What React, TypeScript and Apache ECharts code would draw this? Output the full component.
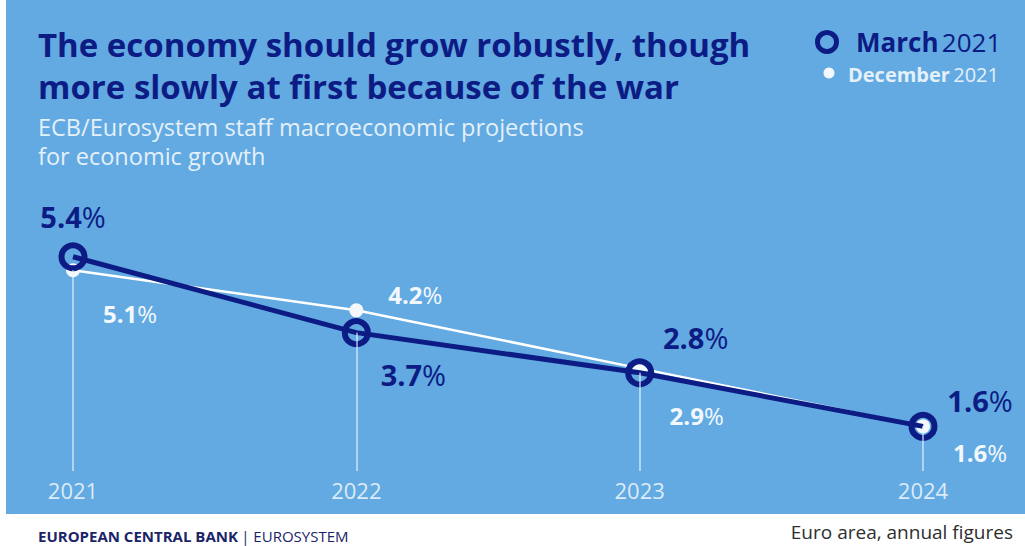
import React, { useEffect, useRef } from "react";
import * as echarts from "echarts";

const categories = ["2021", "2022", "2023", "2024"];
const march2021 = [5.4, 3.7, 2.8, 1.6];
const december2021 = [5.1, 4.2, 2.9, 1.6];

const titleLines = [
  "The economy should grow robustly, though",
  "more slowly at first because of the war",
];
const subtitleLines = [
  "ECB/Eurosystem staff macroeconomic projections",
  "for economic growth",
];

const BLUE = "#62AAE1";
const NAVY = "#0C1C84";
const LIGHT = "#E4F0FA";
const FONT = "'Open Sans', 'Noto Sans', sans-serif";

const Y_MIN = 0.6;
const Y_MAX = 6;

const marchOffsets = [
  [0, -40],
  [57, 42],
  [56, -35],
  [57, -26],
];
const decOffsets = [
  [57, 43],
  [59, -16],
  [57, 47],
  [57, 26],
];

export default function App() {
  const ref = useRef<HTMLDivElement>(null);

  useEffect(() => {
    if (!ref.current) return;
    const chart = echarts.init(ref.current, undefined, { renderer: "svg" });

    const pctLabel = (v: number) => `{n|${v.toFixed(1)}}{p|%}`;

    const option: any = {
      animation: false,
      backgroundColor: "#ffffff",
      grid: { left: 73, right: 102, top: 230, bottom: 75 },
      xAxis: {
        type: "category",
        data: categories,
        boundaryGap: false,
        axisLine: { show: false },
        axisTick: { show: false },
        splitLine: { show: false },
        axisLabel: {
          color: "#DCEBF8",
          fontSize: 22,
          fontFamily: FONT,
          margin: 8,
        },
      },
      yAxis: {
        type: "value",
        min: Y_MIN,
        max: Y_MAX,
        show: false,
        splitLine: { show: false },
      },
      graphic: [
        {
          type: "rect",
          z: -100,
          shape: { x: 6, y: 0, width: 1019, height: 514 },
          style: { fill: BLUE },
          silent: true,
        },
        ...titleLines.map((t, i) => ({
          type: "text",
          x: 38,
          y: 44 + i * 42,
          z: 10,
          style: {
            text: t,
            fill: NAVY,
            font: `bold 33px ${FONT}`,
            verticalAlign: "middle",
          },
        })),
        ...subtitleLines.map((t, i) => ({
          type: "text",
          x: 38,
          y: 127 + i * 29,
          z: 10,
          style: {
            text: t,
            fill: LIGHT,
            font: `23.5px ${FONT}`,
            verticalAlign: "middle",
          },
        })),
        {
          type: "circle",
          z: 10,
          shape: { cx: 827, cy: 42, r: 9.5 },
          style: { fill: "transparent", stroke: NAVY, lineWidth: 5 },
        },
        {
          type: "text",
          x: 856,
          y: 42,
          z: 10,
          style: {
            text: "{b|March} {r|2021}",
            verticalAlign: "middle",
            rich: {
              b: { fontFamily: FONT, fontWeight: "bold", fontSize: 26, fill: NAVY, color: NAVY },
              r: { fontFamily: FONT, fontSize: 26, fill: NAVY, color: NAVY },
            },
          },
        },
        {
          type: "circle",
          z: 10,
          shape: { cx: 829, cy: 73, r: 5.5 },
          style: { fill: "#F4F8FC" },
        },
        {
          type: "text",
          x: 848,
          y: 74,
          z: 10,
          style: {
            text: "{b|December} {r|2021}",
            verticalAlign: "middle",
            rich: {
              b: { fontFamily: FONT, fontWeight: "bold", fontSize: 20, fill: LIGHT, color: LIGHT },
              r: { fontFamily: FONT, fontSize: 20, fill: LIGHT, color: LIGHT },
            },
          },
        },
        {
          type: "text",
          x: 38,
          y: 536,
          z: 10,
          style: {
            text: "{b|EUROPEAN CENTRAL BANK} {r|| EUROSYSTEM}",
            verticalAlign: "middle",
            rich: {
              b: { fontFamily: FONT, fontWeight: "bold", fontSize: 15, fill: "#1B2468", color: "#1B2468" },
              r: { fontFamily: FONT, fontSize: 15, fill: "#1B2468", color: "#1B2468" },
            },
          },
        },
        {
          type: "text",
          x: 1013,
          y: 532,
          z: 10,
          style: {
            text: "Euro area, annual figures",
            fill: "#2E2E2E",
            font: `19px ${FONT}`,
            align: "right",
            verticalAlign: "middle",
          },
        },
      ],
      series: [
        {
          name: "December 2021",
          type: "line",
          z: 3,
          data: december2021.map((v, i) => ({
            value: v,
            label: { offset: decOffsets[i] },
          })),
          symbol: "circle",
          symbolSize: 14,
          itemStyle: { color: "#F4F8FC" },
          lineStyle: { color: "#FFFFFF", width: 2.5 },
          label: {
            show: true,
            position: "inside",
            formatter: (p: any) => pctLabel(p.value),
            rich: {
              n: { fontFamily: FONT, fontWeight: "bold", fontSize: 24, color: "#F2F8FD" },
              p: { fontFamily: FONT, fontSize: 24, color: "#F2F8FD" },
            },
          },
          emphasis: { disabled: true },
          markLine: {
            silent: true,
            symbol: "none",
            label: { show: false },
            lineStyle: { color: "rgba(235,245,252,0.75)", width: 1.5, type: "solid" },
            emphasis: { disabled: true },
            data: categories.map((c, i) => [
              { coord: [c, Math.min(march2021[i], december2021[i])] },
              { coord: [c, Y_MIN] },
            ]),
          },
        },
        {
          name: "March 2021",
          type: "line",
          z: 4,
          data: march2021.map((v, i) => ({
            value: v,
            label: { offset: marchOffsets[i] },
          })),
          symbol: "circle",
          symbolSize: 23,
          itemStyle: { color: "rgba(0,0,0,0)", borderColor: NAVY, borderWidth: 6 },
          lineStyle: { color: NAVY, width: 5 },
          label: {
            show: true,
            position: "inside",
            formatter: (p: any) => pctLabel(p.value),
            rich: {
              n: { fontFamily: FONT, fontWeight: "bold", fontSize: 29, color: NAVY },
              p: { fontFamily: FONT, fontSize: 29, color: NAVY },
            },
          },
          emphasis: { disabled: true },
        },
      ],
    };

    chart.setOption(option);
    return () => chart.dispose();
  }, []);

  return (
    <div
      ref={ref}
      style={{ position: "fixed", left: 0, top: 0, width: 1025, height: 546 }}
    />
  );
}
